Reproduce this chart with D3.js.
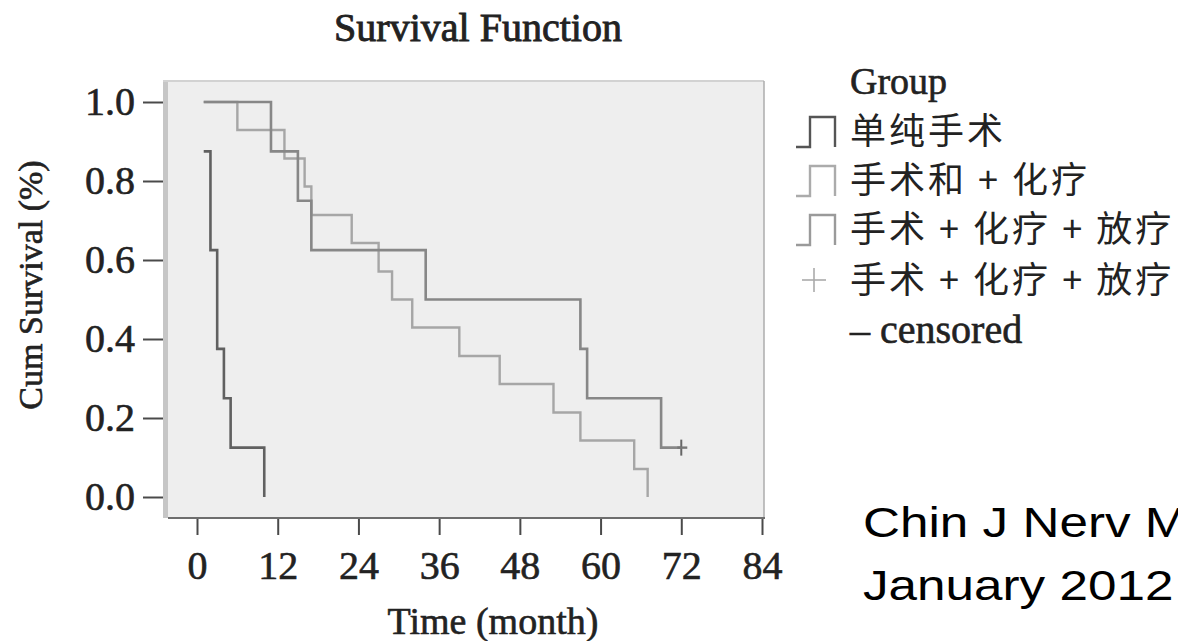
<!DOCTYPE html>
<html lang="zh">
<head>
    <meta charset="UTF-8">
    <title>Survival Function</title>
    <script src="https://cdn.jsdelivr.net/npm/d3@7"></script>
    <style>
        html,
        body {
            margin: 0;
            height: 100%;
            overflow: hidden;
            background: #fff;
        }
    </style>
</head>
<body>
    <svg id="svg"></svg>
    <script>
        // group names (legend order)
        const groups = ['单纯手术', '手术和 + 化疗', '手术 + 化疗 + 放疗'];

        // Kaplan-Meier steps (months, cumulative survival)
        const g1Months = [1, 2, 3, 4, 5, 10];
        const g1Surv = [0.875, 0.625, 0.375, 0.25, 0.125, 0];
        const g2Months = [1, 6, 13, 16, 17, 23, 27, 29, 32, 39, 45, 53, 57, 65, 67];
        const g2Surv = [1, 0.929, 0.857, 0.786, 0.714, 0.643, 0.571, 0.5, 0.429, 0.357, 0.286, 0.214, 0.143, 0.071, 0];
        const g3Months = [1, 11, 15, 17, 34, 57, 58, 69, 72];
        const g3Surv = [1, 0.875, 0.75, 0.625, 0.5, 0.375, 0.25, 0.125, 0.125];
        const censoredMonths = [72];
        const censoredSurv = [0.125];

        const xTicks = [0, 12, 24, 36, 48, 60, 72, 84];
        const yTicks = [0, 0.2, 0.4, 0.6, 0.8, 1.0];

        const width = 1178, height = 641;
        const svg = d3.select('#svg').attr('width', width).attr('height', height);

        const serif = '"Liberation Serif", "Times New Roman", serif';
        const cjk = '"Noto Sans CJK SC", sans-serif';
        // the scanned serif type is heavier than plain Times
        const heavy = sel => sel.attr('stroke', '#222').attr('stroke-width', 0.6);

        // frame of the plot
        const frame = { left: 168, right: 764, top: 81, bottom: 518 };

        const x = d3.scaleLinear().domain([0, 84]).range([197, 762]);
        const y = d3.scaleLinear().domain([0, 1]).range([497, 102]);

        svg.append('rect')
            .attr('x', frame.left).attr('y', frame.top)
            .attr('width', frame.right - frame.left).attr('height', frame.bottom - frame.top)
            .attr('fill', '#eeeeee');
        svg.append('rect')
            .attr('x', 163).attr('y', frame.top - 1)
            .attr('width', 5).attr('height', frame.bottom - frame.top + 1)
            .attr('fill', '#c6c6c6');
        svg.append('line')
            .attr('x1', 163).attr('x2', frame.right).attr('y1', frame.top).attr('y2', frame.top)
            .attr('stroke', '#d2d2d2').attr('stroke-width', 2);
        svg.append('line')
            .attr('x1', frame.right).attr('x2', frame.right).attr('y1', frame.top).attr('y2', frame.bottom)
            .attr('stroke', '#acacac').attr('stroke-width', 1.5);
        svg.append('line')
            .attr('x1', frame.left).attr('x2', frame.right + 1).attr('y1', frame.bottom).attr('y2', frame.bottom)
            .attr('stroke', '#6e6e6e').attr('stroke-width', 2);

        // axes
        const yAxis = svg.append('g')
            .attr('transform', 'translate(163,0)')
            .call(d3.axisLeft(y).tickValues(yTicks).tickFormat(d3.format('.1f')).tickSize(20).tickPadding(8));
        const xAxis = svg.append('g')
            .attr('transform', `translate(0,${frame.bottom + 1})`)
            .call(d3.axisBottom(x).tickValues(xTicks).tickSize(16).tickPadding(16));
        [xAxis, yAxis].forEach(a => {
            a.select('.domain').remove();
            a.selectAll('line').attr('stroke', '#4a4a4a').attr('stroke-width', 2);
            a.selectAll('text')
                .attr('font-family', serif)
                .attr('font-size', 40)
                .attr('fill', '#222')
                .call(heavy);
        });

        // curves
        const line = d3.line()
            .x(d => x(d[0]))
            .y(d => y(d[1]))
            .curve(d3.curveStepAfter);

        const curves = [
            { months: g2Months, surv: g2Surv, color: '#a6a6a6', width: 2.4 },
            { months: g3Months, surv: g3Surv, color: '#878787', width: 2.6 },
            { months: g1Months, surv: g1Surv, color: '#606060', width: 2.6 }
        ];
        svg.selectAll('path.km').data(curves).join('path')
            .attr('class', 'km')
            .attr('fill', 'none')
            .attr('stroke', d => d.color)
            .attr('stroke-width', d => d.width)
            .attr('d', d => line(d.months.map((m, i) => [m, d.surv[i]])));

        // censored marks
        const cens = svg.selectAll('g.cens').data(censoredMonths).join('g')
            .attr('class', 'cens')
            .attr('transform', (d, i) => `translate(${x(d)},${y(censoredSurv[i])})`);
        cens.append('line').attr('x1', 0).attr('x2', 0).attr('y1', -8).attr('y2', 8)
            .attr('stroke', '#666').attr('stroke-width', 2);
        cens.append('line').attr('x1', -4).attr('x2', 6).attr('y1', 0).attr('y2', 0)
            .attr('stroke', '#777').attr('stroke-width', 2.4);

        // titles
        svg.append('text')
            .attr('x', 478).attr('y', 41)
            .attr('text-anchor', 'middle')
            .attr('font-family', serif).attr('font-size', 40).attr('fill', '#222')
            .call(heavy).attr('stroke-width', 0.9)
            .text('Survival Function');
        svg.append('text')
            .attr('x', 493).attr('y', 634)
            .attr('text-anchor', 'middle')
            .attr('font-family', serif).attr('font-size', 38).attr('fill', '#222')
            .call(heavy)
            .text('Time (month)');
        svg.append('text')
            .attr('transform', 'translate(42,285) rotate(-90)')
            .attr('text-anchor', 'middle')
            .attr('font-family', serif).attr('font-size', 34).attr('fill', '#222')
            .call(heavy)
            .text('Cum Survival (%)');

        // legend
        const legend = svg.append('g');
        legend.append('text')
            .attr('x', 850).attr('y', 94)
            .attr('font-family', serif).attr('font-size', 38).attr('fill', '#222')
            .call(heavy)
            .text('Group');

        const rowY = [131, 180, 229, 280];
        const legendColors = ['#555555', '#ababab', '#9a9a9a'];
        const stepIcon = 'M0,16 H14 V-14 H39 V16';
        const cjkText = (label, yPos) => legend.append('text')
            .attr('x', 850).attr('y', yPos + 13)
            .attr('font-family', cjk).attr('font-size', 36)
            .attr('letter-spacing', 3).attr('fill', '#222')
            .text(label);
        groups.forEach((name, i) => {
            legend.append('path')
                .attr('transform', `translate(796,${rowY[i]})`)
                .attr('d', stepIcon)
                .attr('fill', 'none')
                .attr('stroke', legendColors[i])
                .attr('stroke-width', 2.4);
            cjkText(name, rowY[i]);
        });
        // censored entry
        const plus = legend.append('g').attr('transform', `translate(814,${rowY[3]})`);
        plus.append('line').attr('x1', -12).attr('x2', 12).attr('y1', 0).attr('y2', 0)
            .attr('stroke', '#aaa').attr('stroke-width', 1.6);
        plus.append('line').attr('x1', 0).attr('x2', 0).attr('y1', -12).attr('y2', 12)
            .attr('stroke', '#aaa').attr('stroke-width', 1.6);
        cjkText(groups[2], rowY[3]);
        legend.append('text')
            .attr('x', 850).attr('y', 343)
            .attr('font-family', serif).attr('font-size', 40).attr('fill', '#222')
            .call(heavy)
            .text('– censored');

        // source note
        const note = ['Chin J Nerv Ment Dis', 'January 2012'];
        note.forEach((t, i) => {
            svg.append('text')
                .attr('transform', `translate(863,${537 + i * 63}) scale(1.22,1)`)
                .attr('font-family', '"Liberation Sans", Arial, sans-serif')
                .attr('font-size', 42).attr('fill', '#000')
                .text(t);
        });
    </script>
</body>
</html>
